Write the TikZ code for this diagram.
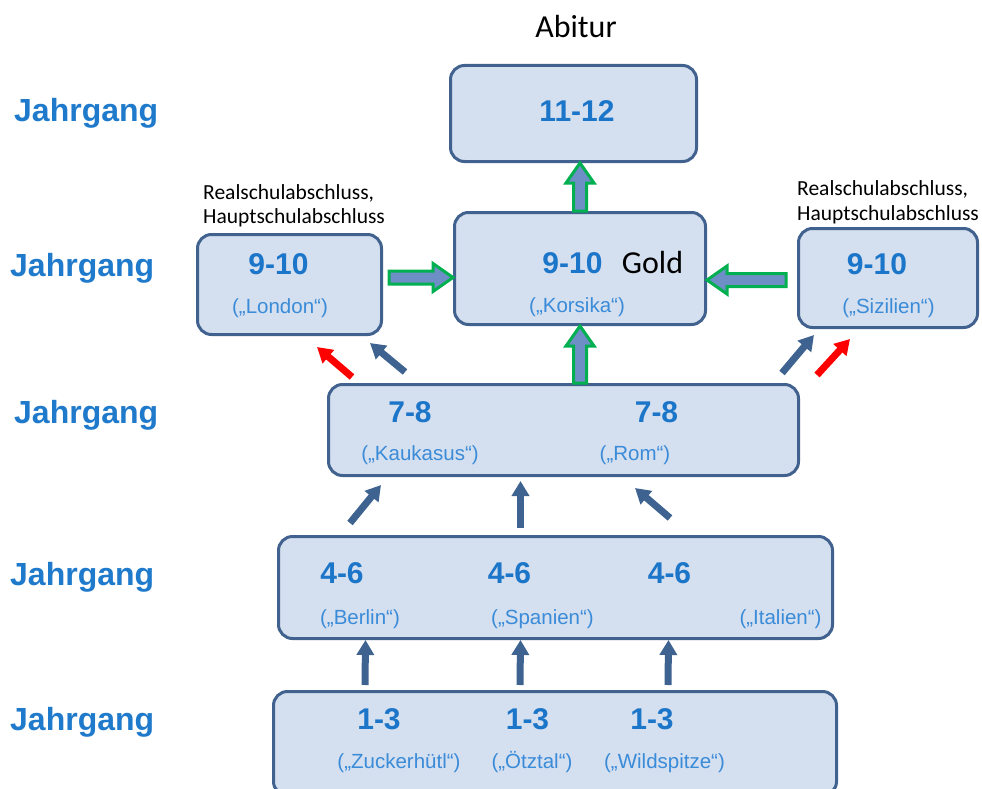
\documentclass[tikz,border=0pt]{standalone}
\usepackage{fontspec}
\setmainfont{Liberation Sans}
\newfontfamily\carl{Carlito}
\usetikzlibrary{arrows.meta,calc}
\definecolor{boxfill}{HTML}{D4DFEF}
\definecolor{boxline}{HTML}{41628E}
\definecolor{numcol}{HTML}{1B75C9}
\definecolor{subcol}{HTML}{3A8BD8}
\definecolor{jahrcol}{HTML}{1F7ACB}
\definecolor{arrblue}{HTML}{3F6390}
\definecolor{grn}{HTML}{00B050}
\definecolor{gfill}{HTML}{6E8FC6}
\definecolor{redarr}{HTML}{FF0000}
\newcommand\garrow[2]{%
 \path[gstyle] let \p1=(#1), \p2=(#2), \n1={atan2(\y2-\y1,\x2-\x1)} in
  ($(\p1)+(\n1+90:6.5pt)$) -- ($(\p2)+(\n1+180:20pt)+(\n1+90:6.5pt)$) --
  ($(\p2)+(\n1+180:20pt)+(\n1+90:14pt)$) -- (\p2) --
  ($(\p2)+(\n1+180:20pt)+(\n1-90:14pt)$) -- ($(\p2)+(\n1+180:20pt)+(\n1-90:6.5pt)$) --
  ($(\p1)+(\n1-90:6.5pt)$) -- cycle;}
\begin{document}
\begin{tikzpicture}[x=1pt,y=-1pt,
 box/.style={draw=boxline, fill=boxfill, line width=3pt, rounded corners=14pt, inner sep=0pt},
 num/.style={anchor=base, text=numcol, font=\fontsize{30}{36}\selectfont\bfseries, inner sep=0pt},
 sub/.style={anchor=base, text=subcol, font=\fontsize{20.5}{24}\selectfont, inner sep=0pt},
 jahr/.style={anchor=base west, text=jahrcol, font=\fontsize{32}{38}\selectfont\bfseries, inner sep=0pt},
 note/.style={anchor=base west, text=black, font=\carl\fontsize{21.5}{24}\selectfont, inner sep=0pt},
 big/.style={anchor=base, text=black, font=\carl\fontsize{32}{38}\selectfont, inner sep=0pt},
 barrow/.style={draw=arrblue, line width=7pt, -{Triangle[length=15pt,width=17pt]}},
 rarrow/.style={barrow, draw=redarr},
 gstyle/.style={draw=grn, fill=gfill, line width=3pt}
]
\useasboundingbox (0,0) rectangle (982,789);
\clip (0,0) rectangle (982,789);

% boxes
\node[box, minimum width=246pt, minimum height=96pt] (t) at (573.5,113.5) {};
\node[box, minimum width=184pt, minimum height=100pt] (l) at (289.5,284.5) {};
\node[box, minimum width=251pt, minimum height=112pt] (k) at (580,268.5) {};
\node[box, minimum width=179pt, minimum height=99pt] (s) at (888,278) {};
\node[box, minimum width=470pt, minimum height=91pt] (r) at (563.5,430) {};
\node[box, minimum width=554pt, minimum height=102pt] (m) at (555.5,587.5) {};
\node[box, minimum width=563pt, minimum height=104pt] (b) at (555,743.5) {};

% row labels
\node[jahr] (j1) at (14,122) {Jahrgang};
\node[jahr] (j2) at (10,276) {Jahrgang};
\node[jahr] (j3) at (14,423) {Jahrgang};
\node[jahr] (j4) at (10,585) {Jahrgang};
\node[jahr] (j5) at (10,730) {Jahrgang};

% top
\node[big] (abi) at (576,38) {Abitur};
\node[num] (n1112) at (577,122) {11-12};

% notes
\node[note] (nl1) at (203,199) {Realschulabschluss,};
\node[note] (nl2) at (203,223) {Hauptschulabschluss};
\node[note] (nr1) at (797,195) {Realschulabschluss,};
\node[note] (nr2) at (797,220) {Hauptschulabschluss};

% 9-10 row
\node[num] (nl) at (278.5,274) {9-10};
\node[sub] (sl) at (280,313) {(„London“)};
\node[num] (nk) at (572.5,273) {9-10};
\node[big] (gold) at (652.5,273) {Gold};
\node[sub] (sk) at (577,312) {(„Korsika“)};
\node[num] (ns) at (877,274) {9-10};
\node[sub] (ss) at (888.5,313) {(„Sizilien“)};

% 7-8 row
\node[num] (n78a) at (410,422) {7-8};
\node[num] (n78b) at (656.5,422) {7-8};
\node[sub] (skau) at (420,460) {(„Kaukasus“)};
\node[sub] (srom) at (635,460) {(„Rom“)};

% 4-6 row
\node[num] (n46a) at (342,583) {4-6};
\node[num] (n46b) at (509.5,583) {4-6};
\node[num] (n46c) at (669.5,583) {4-6};
\node[sub] (sber) at (360,624) {(„Berlin“)};
\node[sub] (sspa) at (542.5,624) {(„Spanien“)};
\node[sub] (sita) at (780.5,624) {(„Italien“)};

% 1-3 row
\node[num] (n13a) at (379,729) {1-3};
\node[num] (n13b) at (527.5,729) {1-3};
\node[num] (n13c) at (652,729) {1-3};
\node[sub] (szu) at (399,768) {(„Zuckerhütl“)};
\node[sub] (soe) at (532,768) {(„Ötztal“)};
\node[sub] (swi) at (664.5,768) {(„Wildspitze“)};

% arrow end points
\coordinate (rl1) at (405,372); \coordinate (lr1) at (370,343);
\coordinate (rl2) at (352,377); \coordinate (lr2) at (317,347);
\coordinate (rs1) at (782,373); \coordinate (sr1) at (814,335);
\coordinate (rs2) at (817,375); \coordinate (sr2) at (850,339);
\coordinate (mr1) at (350,523); \coordinate (rm1) at (381,485);
\coordinate (mr3) at (670,518); \coordinate (rm3) at (635,488);
\coordinate (gl) at ([xshift=6pt,yshift=7pt]l.east);
\coordinate (gs) at ([xshift=-11pt,yshift=-2pt]s.west);

% dark blue / red arrows
\draw[barrow] ([xshift=-190pt,yshift=5pt]b.north) -- ([xshift=-190pt]m.south);
\draw[barrow] ([xshift=-35pt,yshift=5pt]b.north) -- ([xshift=-35pt]m.south);
\draw[barrow] ([xshift=113pt,yshift=5pt]b.north) -- ([xshift=113pt]m.south);
\draw[barrow] (mr1) -- (rm1);
\draw[barrow] ([xshift=-35pt,yshift=7pt]m.north) -- ([xshift=-35pt,yshift=-4pt]m.north |- r.south);
\draw[barrow] (mr3) -- (rm3);
\draw[barrow] (rl1) -- (lr1);
\draw[rarrow] (rl2) -- (lr2);
\draw[barrow] (rs1) -- (sr1);
\draw[rarrow] (rs2) -- (sr2);

% green block arrows
\garrow{k.north}{k.north |- t.south}
\garrow{k.south |- r.north}{k.south}
\garrow{gl}{gl -| k.west}
\garrow{gs}{gs -| k.east}
\end{tikzpicture}
\end{document}
